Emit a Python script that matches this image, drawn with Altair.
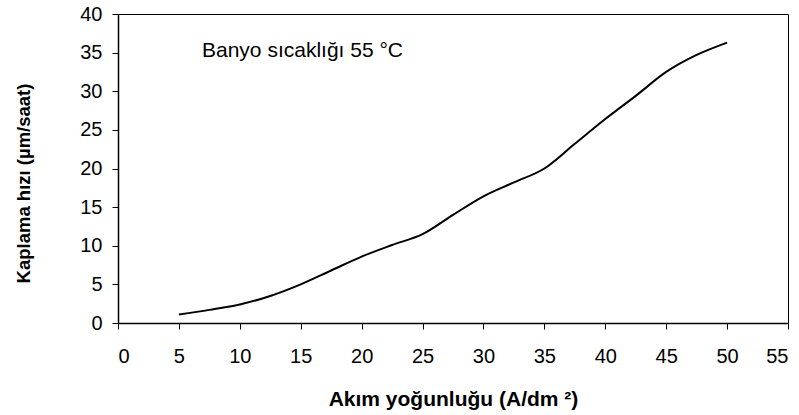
import altair as alt
import pandas as pd

# Data
akim = [5, 7.5, 10, 12.5, 15, 17.5, 20, 22.5, 25, 27.5, 30, 32.5, 35, 37.5, 40, 42.5, 45, 47.5, 50]
hiz = [1.1, 1.7, 2.4, 3.5, 5.0, 6.8, 8.6, 10.1, 11.5, 14.0, 16.4, 18.2, 20.0, 23.2, 26.4, 29.4, 32.5, 34.7, 36.3]

x_ticks = list(range(0, 56, 5))
y_ticks = list(range(0, 41, 5))

note = "Banyo sıcaklığı 55 °C"
x_title = "Akım yoğunluğu (A/dm ²)"
y_title = "Kaplama hızı (µm/saat)"

df = pd.DataFrame({"akim": akim, "hiz": hiz})

FONT = "Liberation Sans"

line = alt.Chart(df).mark_line(color="black", strokeWidth=2, interpolate="monotone").encode(
    x=alt.X(
        "akim:Q",
        scale=alt.Scale(domain=[0, 55], nice=False, zero=True),
        axis=alt.Axis(
            values=x_ticks,
            title=x_title,
            grid=False,
            tickSize=6,
            labelPadding=17,
            titleFontSize=21,
            titleBaseline="alphabetic",
            titleY=82,
        ),
    ),
    y=alt.Y(
        "hiz:Q",
        scale=alt.Scale(domain=[0, 40], nice=False),
        axis=alt.Axis(
            values=y_ticks,
            title=y_title,
            grid=False,
            tickSize=6,
            labelPadding=10,
            titleFontSize=18.5,
            titleAngle=-90,
            titleBaseline="alphabetic",
            titleAlign="center",
            titleX=-89,
            titleY=169,
        ),
    ),
)

label = alt.Chart(pd.DataFrame({"t": [note]})).mark_text(
    align="left", baseline="alphabetic", font=FONT, fontSize=21, color="black"
).encode(text="t:N", x=alt.value(84), y=alt.value(42.7))

chart = (
    alt.layer(line, label)
    .properties(
        width=670,
        height=309,
        autosize=alt.AutoSizeParams(type="none"),
        padding={"left": 118, "top": 14, "right": 11, "bottom": 92},
        background="white",
    )
    .configure_view(stroke="black", strokeWidth=1)
    .configure_axis(
        domainColor="black",
        domainWidth=1.5,
        tickColor="black",
        tickWidth=1,
        labelFont=FONT,
        labelFontSize=20,
        labelColor="black",
        titleFont=FONT,
        titleFontWeight="bold",
        titleColor="black",
    )
)

chart.save("out.html", embed_options={"renderer": "svg", "actions": False})
